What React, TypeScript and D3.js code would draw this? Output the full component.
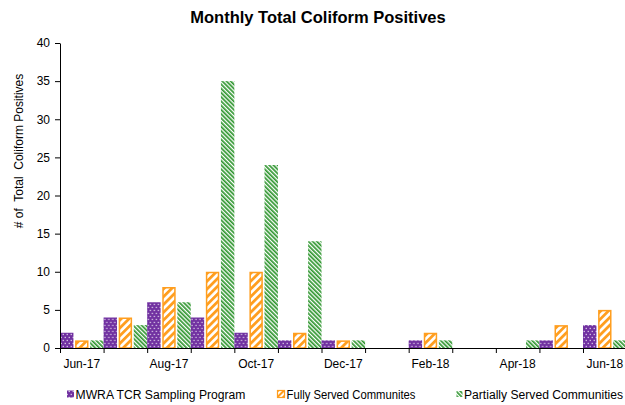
import React, { useEffect, useRef } from 'react';
import { axisBottom, axisLeft, range, scaleBand, scaleLinear, select } from 'd3';

const months = ['Jun-17', 'Jul-17', 'Aug-17', 'Sep-17', 'Oct-17', 'Nov-17', 'Dec-17', 'Jan-18', 'Feb-18', 'Mar-18', 'Apr-18', 'May-18', 'Jun-18'];
const shownMonths = ['Jun-17', 'Aug-17', 'Oct-17', 'Dec-17', 'Feb-18', 'Apr-18', 'Jun-18'];
const mwra = [2, 4, 6, 4, 2, 1, 1, 0, 1, 0, 0, 1, 3];
const fullyServed = [1, 4, 8, 10, 10, 2, 1, 0, 2, 0, 0, 3, 5];
const partiallyServed = [1, 3, 6, 35, 24, 14, 1, 0, 1, 0, 1, 0, 1];
const seriesNames = ['MWRA TCR Sampling Program', 'Fully Served Communites', 'Partially Served Communities'];
const yTicks = [0, 5, 10, 15, 20, 25, 30, 35, 40];

const font = 'Liberation Sans, Arial, sans-serif';
const purple = '#7030a0';
const orange = '#ff9e1f';
const green = '#2f962f';

const left = 60, right = 626.6, top = 43, bottom = 348;

export default function App() {
  const svgRef = useRef<SVGSVGElement>(null);

  useEffect(() => {
    const svg = select(svgRef.current);

    const x = scaleBand().domain(months).range([left, right]).padding(0);
    const inner = scaleBand().domain(['0', '1', '2']).range([0, x.bandwidth()]).paddingInner(0.11).paddingOuter(0);
    const xIdx = scaleLinear().domain([0, months.length]).range([left, right]);
    const y = scaleLinear().domain([0, 40]).range([bottom, top]);

    const rows = months.map((m, i) => ({ m, vals: [mwra[i], fullyServed[i], partiallyServed[i]] }));
    const fills = ['url(#dots)', 'url(#wide)', 'url(#narrow)'];

    svg.select('.bars')
      .selectAll('g')
      .data(rows)
      .join('g')
      .attr('transform', (d) => `translate(${x(d.m)},0)`)
      .selectAll('rect')
      .data((d) => d.vals.map((v, k) => ({ v, k })))
      .join('rect')
      .attr('x', (d) => inner(String(d.k))! + (d.k === 1 ? 0.75 : 0))
      .attr('width', (d) => inner.bandwidth() - (d.k === 1 ? 1.5 : 0))
      .attr('y', (d) => y(d.v) + (d.k === 1 ? 0.75 : 0))
      .attr('height', (d) => Math.max(0, bottom - y(d.v) - (d.k === 1 ? 0.75 : 0)))
      .attr('fill', (d) => fills[d.k])
      .attr('stroke', (d) => (d.k === 1 ? orange : 'none'))
      .attr('stroke-width', 1.5)
      .style('display', (d) => (d.v === 0 ? 'none' : null));

    const yAxis = svg.select<SVGGElement>('.y-axis')
      .attr('transform', `translate(${left},0)`)
      .call(axisLeft(y).tickValues(yTicks).tickSize(5).tickSizeOuter(0).tickPadding(5));
    yAxis.selectAll('text').attr('font-family', font).attr('font-size', 12).attr('fill', '#000');
    yAxis.selectAll('line,path').attr('stroke', '#000');

    const xTicks = svg.select<SVGGElement>('.x-ticks')
      .attr('transform', `translate(0,${bottom})`)
      .call(axisBottom(xIdx).tickValues(range(months.length + 1)).tickSize(5).tickSizeOuter(0).tickFormat(() => ''));
    xTicks.selectAll('line,path').attr('stroke', '#000');

    const xLabels = svg.select<SVGGElement>('.x-labels')
      .attr('transform', `translate(0,${bottom})`)
      .call(axisBottom(x).tickSize(0).tickPadding(11).tickFormat((d) => (shownMonths.includes(d) ? d : '')));
    xLabels.select('.domain').remove();
    xLabels.selectAll('text').attr('font-family', font).attr('font-size', 12).attr('fill', '#000');
  }, []);

  const legend = [
    { name: seriesNames[0], fill: 'url(#dots)', mx: 67, tx: 75.5, len: 170, stroke: 'none', size: 7 },
    { name: seriesNames[1], fill: 'url(#wideSmall)', mx: 277.5, tx: 286.5, len: 129, stroke: orange, size: 7 },
    { name: seriesNames[2], fill: 'url(#narrow)', mx: 456.5, tx: 464, len: 159, stroke: 'none', size: 6 },
  ];

  return (
    <div style={{ position: 'absolute', left: 0, top: 0 }}>
      <svg ref={svgRef} width={625} height={405} style={{ display: 'block', background: '#fff' }}>
        <defs>
          <pattern id="dots" width={4} height={6} patternUnits="userSpaceOnUse">
            <rect width={4} height={6} fill={purple} />
            <rect x={0.6} y={0.8} width={1.3} height={1.3} fill="#fff" opacity={0.75} />
            <rect x={2.6} y={3.8} width={1.3} height={1.3} fill="#fff" opacity={0.75} />
          </pattern>
          <pattern id="wide" width={5.5} height={10} patternUnits="userSpaceOnUse" patternTransform="rotate(45)">
            <rect width={5.5} height={10} fill="#fff" />
            <rect width={2.8} height={10} fill={orange} />
          </pattern>
          <pattern id="wideSmall" width={4} height={10} patternUnits="userSpaceOnUse" patternTransform="rotate(45)">
            <rect width={4} height={10} fill="#fff" />
            <rect width={2} height={10} fill={orange} />
          </pattern>
          <pattern id="narrow" width={3} height={10} patternUnits="userSpaceOnUse" patternTransform="rotate(-45)">
            <rect width={3} height={10} fill="#fff" />
            <rect width={1.7} height={10} fill={green} />
          </pattern>
        </defs>

        <text x={318} y={23} textAnchor="middle" fontFamily={font} fontWeight="bold" fontSize={16.5} fill="#000">
          Monthly Total Coliform Positives
        </text>
        <text transform="translate(23,151) rotate(-90)" textAnchor="middle" fontFamily={font} fontSize={12}
          fill="#000" style={{ whiteSpace: 'pre' }}>
          {'# of  Total  Coliform Positives'}
        </text>

        <g className="bars" />
        <g className="y-axis" />
        <g className="x-ticks" />
        <g className="x-labels" />

        {legend.map((l) => (
          <g key={l.name}>
            <rect x={l.mx} y={394 - l.size / 2} width={l.size} height={l.size} fill={l.fill}
              stroke={l.stroke} strokeWidth={l.stroke === 'none' ? 0 : 1.2} />
            <text x={l.tx} y={399} fontFamily={font} fontSize={12} textLength={l.len}
              lengthAdjust="spacingAndGlyphs" fill="#000">{l.name}</text>
          </g>
        ))}
      </svg>
    </div>
  );
}
